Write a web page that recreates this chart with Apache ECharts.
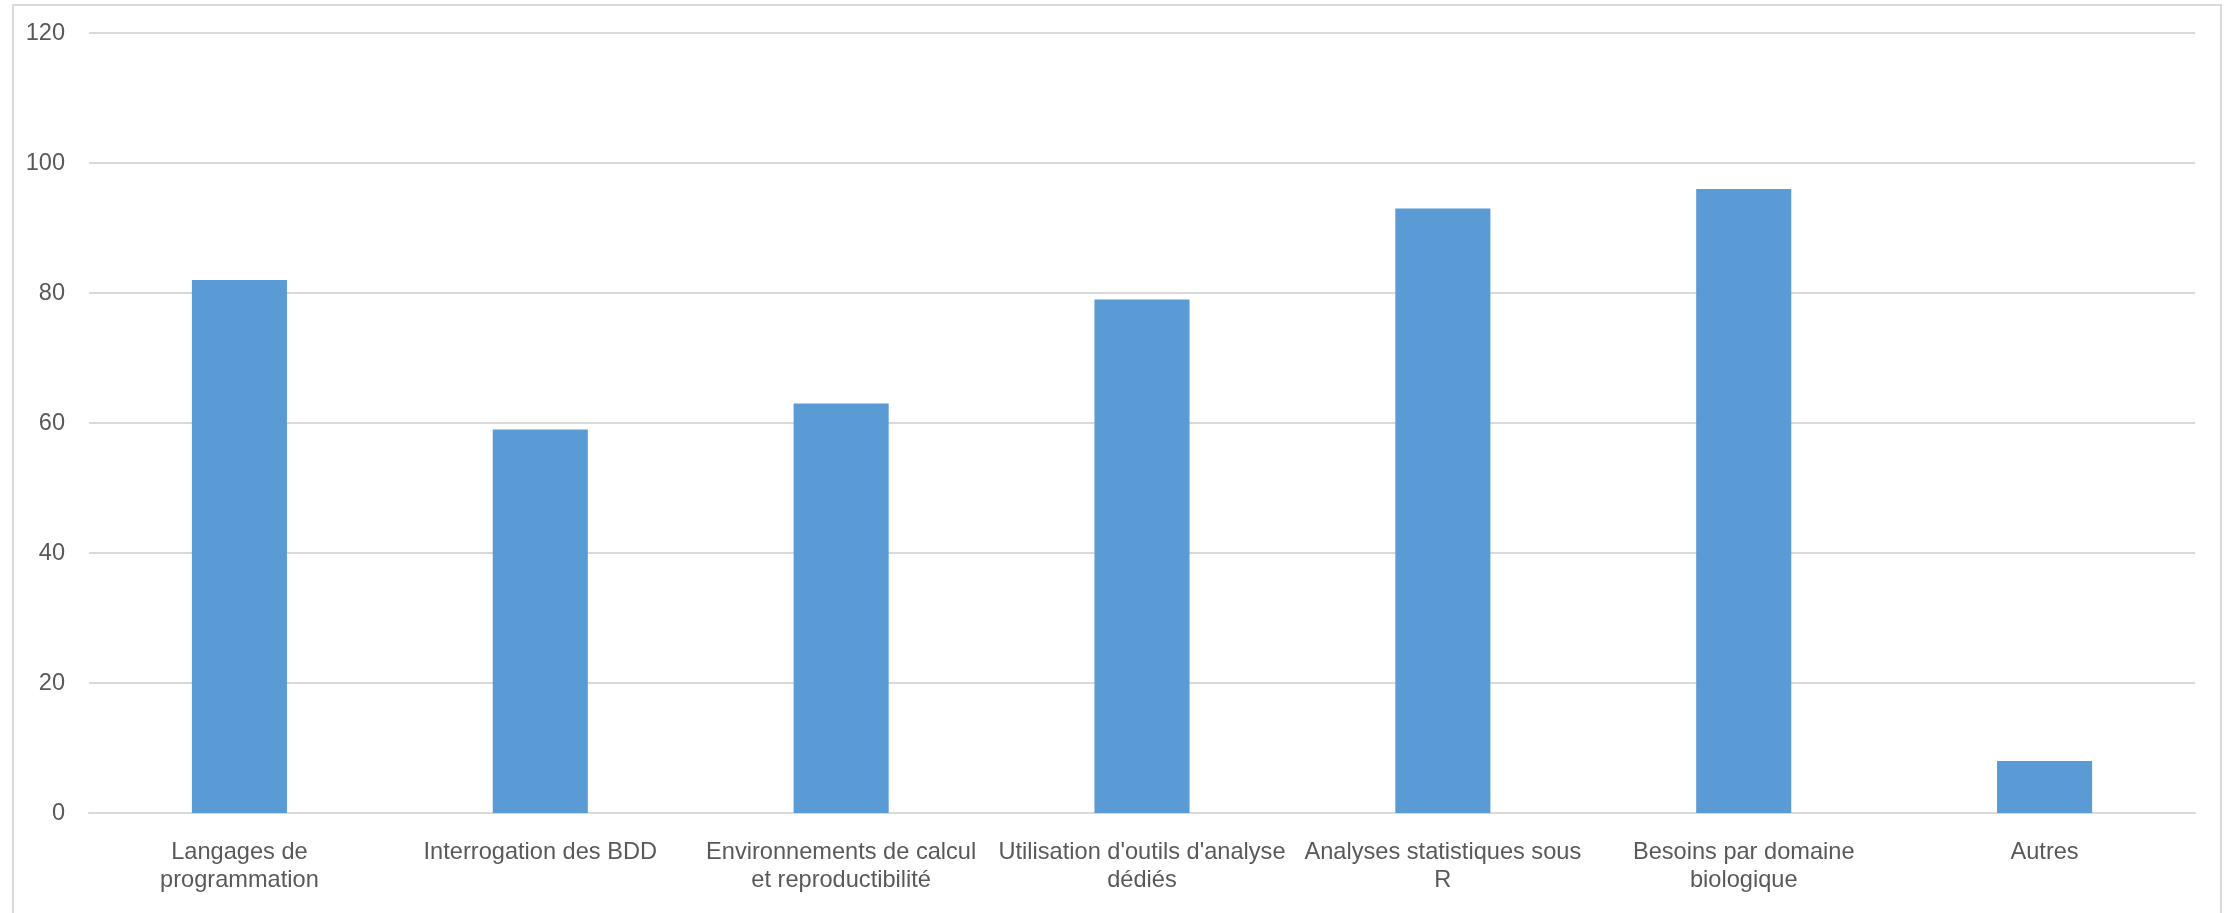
<!DOCTYPE html>
<html>
<head>
<meta charset="utf-8">
<script src="https://cdn.jsdelivr.net/npm/echarts@6/dist/echarts.min.js"></script>
<style>
  html, body { margin: 0; padding: 0; background: #ffffff; }
  #chart { width: 2233px; height: 913px; }
</style>
</head>
<body>
<div id="chart"></div>
<script>
// Training needs by topic
const categories = [
  'Langages de\nprogrammation',
  'Interrogation des BDD',
  'Environnements de calcul\net reproductibilité',
  "Utilisation d'outils d'analyse\ndédiés",
  'Analyses statistiques sous\nR',
  'Besoins par domaine\nbiologique',
  'Autres'
];
const counts = [82, 59, 63, 79, 93, 96, 8];
const yTicks = { min: 0, max: 120, interval: 20 };

const chart = echarts.init(document.getElementById('chart'), null, { renderer: 'canvas' });

const labelFont = {
  color: '#595959',
  fontFamily: '"Liberation Sans", Arial, sans-serif',
  fontSize: 23.6
};

chart.setOption({
  backgroundColor: '#ffffff',
  animation: false,
  graphic: [{
    type: 'rect',
    shape: { x: 13, y: 5, width: 2208, height: 940 },
    style: { fill: 'none', stroke: '#d9d9d9', lineWidth: 2 },
    silent: true,
    z: -1
  }],
  grid: { left: 89, right: 38, top: 33, bottom: 100, containLabel: false },
  xAxis: {
    type: 'category',
    data: categories,
    axisLine: { show: true, lineStyle: { color: '#d9d9d9', width: 2 } },
    axisTick: { show: false },
    axisLabel: Object.assign({ margin: 25, lineHeight: 28, interval: 0 }, labelFont),
    splitLine: { show: false }
  },
  yAxis: {
    type: 'value',
    min: yTicks.min,
    max: yTicks.max,
    interval: yTicks.interval,
    axisLine: { show: false },
    axisTick: { show: false },
    axisLabel: Object.assign({ margin: 24 }, labelFont),
    splitLine: { lineStyle: { color: '#d9d9d9', width: 2 } }
  },
  series: [{
    type: 'bar',
    data: counts,
    barWidth: '31.6%',
    itemStyle: { color: '#5b9bd5' }
  }]
});
</script>
</body>
</html>
